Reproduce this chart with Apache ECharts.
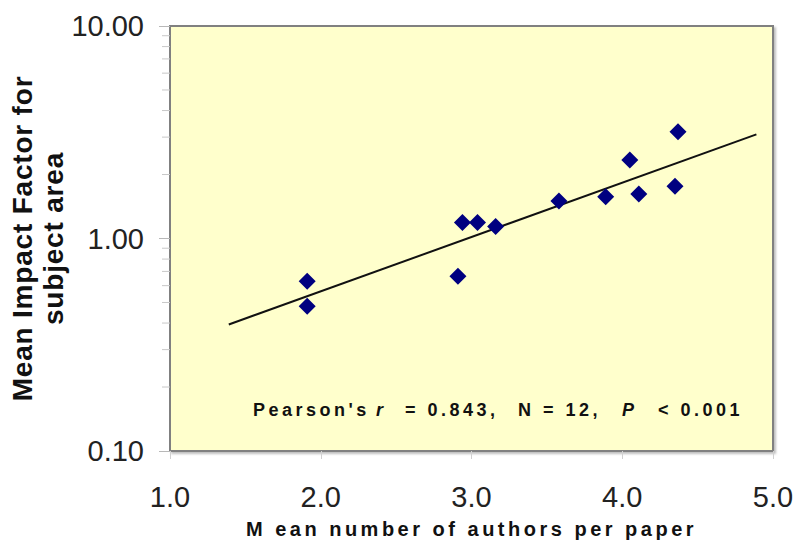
<!DOCTYPE html>
<html><head><meta charset="utf-8">
<script src="https://cdn.jsdelivr.net/npm/echarts@6/dist/echarts.min.js"></script>
<style>
html,body{margin:0;padding:0;background:#fff}
#c{width:800px;height:544px}
#c text[style*="20px"], #c text[style*="18px"]{letter-spacing:3.5px}
#c text[style*="28px"]{letter-spacing:0.8px}
</style></head><body><div id="c"></div>
<script>
// Data
const authors = [1.91, 1.91, 2.91, 2.94, 3.04, 3.16, 3.58, 3.89, 4.05, 4.11, 4.35, 4.37];
const impact  = [0.63, 0.48, 0.665, 1.19, 1.19, 1.14, 1.50, 1.57, 2.34, 1.62, 1.76, 3.18];
const trendX = [1.39, 4.89];
const trendY = [0.394, 3.09];
const xTickLabels = ['1.0', '2.0', '3.0', '4.0', '5.0'];
const yTickLabels = ['0.10', '1.00', '10.00'];
const yMinorTicks = [0.2, 0.3, 0.4, 0.5, 0.6, 0.7, 0.8, 0.9, 2, 3, 4, 5, 6, 7, 8, 9];

const FONT = 'Liberation Sans';
const chart = echarts.init(document.getElementById('c'), null, {renderer: 'svg'});

const annot = [
  {t: "Pearson's", x: 253, it: false},
  {t: 'r', x: 376, it: true},
  {t: '= 0.843,', x: 405, it: false},
  {t: 'N = 12,', x: 518, it: false},
  {t: 'P', x: 622, it: true},
  {t: '< 0.001', x: 658, it: false}
];

chart.setOption({
  animation: false,
  backgroundColor: '#ffffff',
  grid: {
    left: 170, top: 26, right: 27, bottom: 93,
    outerBoundsMode: 'none', containLabel: false,
    show: true, backgroundColor: '#FFFFCC',
    borderColor: '#808080', borderWidth: 2,
    shadowColor: 'rgba(0,0,0,0.25)', shadowBlur: 2, shadowOffsetX: 2, shadowOffsetY: 2
  },
  xAxis: {
    type: 'value', min: 1, max: 5, interval: 1,
    name: 'M ean number of authors per paper',
    nameLocation: 'middle', nameGap: 68, nameMoveOverlap: false,
    nameTextStyle: {fontFamily: FONT, fontSize: 20, fontWeight: 'bold', color: '#111'},
    axisLine: {show: false},
    axisTick: {show: true, length: 8, lineStyle: {color: '#d0d0d0', width: 1}},
    splitLine: {show: false},
    axisLabel: {
      margin: 31, fontFamily: FONT, fontSize: 29, color: '#222',
      formatter: v => xTickLabels[Math.round(v) - 1]
    }
  },
  yAxis: {
    type: 'log', logBase: 10, min: 0.1, max: 10,
    name: 'Mean Impact Factor for\nsubject area',
    nameLocation: 'middle', nameRotate: 90, nameGap: 101, nameMoveOverlap: false,
    nameTextStyle: {fontFamily: FONT, fontSize: 28, fontWeight: 'bold', color: '#111', lineHeight: 31, align: 'center'},
    axisLine: {show: false},
    axisTick: {show: true, length: 11, lineStyle: {color: '#b8b8b8', width: 1}},
    splitLine: {show: false},
    axisLabel: {
      margin: 26, fontFamily: FONT, fontSize: 29, color: '#222',
      formatter: v => yTickLabels[Math.round(Math.log10(v)) + 1]
    }
  },
  series: [
    {
      type: 'custom', silent: true, z: 1,
      data: yMinorTicks.map(v => [1, v]),
      renderItem: (params, api) => {
        const p = api.coord([api.value(0), api.value(1)]);
        return {type: 'line', shape: {x1: p[0] - 8, y1: p[1], x2: p[0], y2: p[1]},
                style: {stroke: '#c8c8c8', lineWidth: 1}};
      }
    },
    {
      type: 'line', data: trendX.map((x, i) => [x, trendY[i]]),
      showSymbol: false, symbol: 'none', lineStyle: {color: '#111', width: 2}, z: 2
    },
    {
      type: 'scatter', data: authors.map((x, i) => [x, impact[i]]),
      symbol: 'diamond', symbolSize: 17, itemStyle: {color: '#000080', opacity: 1}, z: 3
    }
  ],
  graphic: annot.map(a => ({
    type: 'text', left: a.x, top: 401, z: 10,
    style: {text: a.t, fontFamily: FONT, fontSize: 18, fontWeight: 'bold',
            fontStyle: a.it ? 'italic' : 'normal', fill: '#111'}
  }))
});
</script></body></html>
